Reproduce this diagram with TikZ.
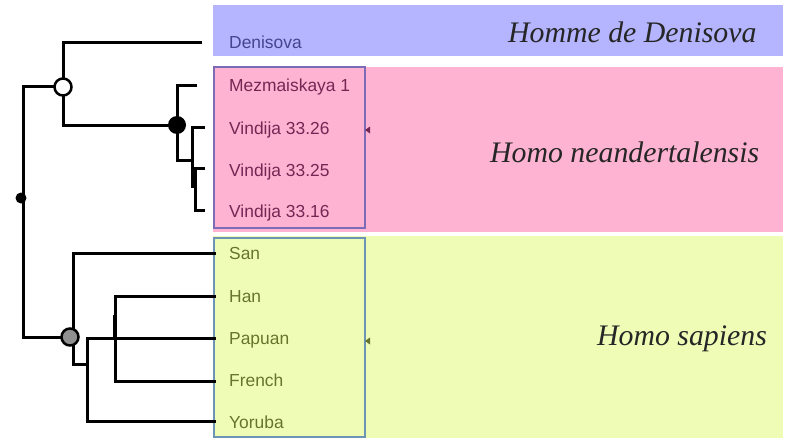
\documentclass[tikz,border=0pt]{standalone}
\usepackage{fontspec}
\setmainfont{Liberation Serif}
\newfontfamily\leaffont{Liberation Sans}
\definecolor{denband}{HTML}{B4B4FF}
\definecolor{neaband}{HTML}{FFB3D2}
\definecolor{sapband}{HTML}{EFFCB6}
\definecolor{dentext}{HTML}{45458E}
\definecolor{neatext}{HTML}{742754}
\definecolor{saptext}{HTML}{66752C}
\definecolor{neaframe}{HTML}{7C6CB8}
\definecolor{sapframe}{HTML}{6C94B4}
\definecolor{sapnode}{HTML}{909090}
\begin{document}
\begin{tikzpicture}[x=1pt,y=-1pt,
  branch/.style={line width=3pt,line cap=butt,line join=miter},
  leaf/.style={anchor=base west,inner sep=0pt,font=\leaffont\fontsize{17.4}{20}\selectfont},
  group/.style={anchor=base west,inner sep=0pt,font=\itshape\fontsize{29.8}{34}\selectfont,text=black!85},
  frame/.style={line width=1.6pt}
]
\useasboundingbox (0,0) rectangle (791,441);

% coloured bands behind the taxa
\fill[denband] (213,5) rectangle (783,56);
\fill[neaband] (213,67) rectangle (783,232);
\fill[sapband] (213,236) rectangle (783,438);

% frames round the leaf labels
\draw[frame,neaframe] (214,67) rectangle (365,228);
\draw[frame,sapframe] (214,238) rectangle (365,437);
\fill[neatext] (370,126.5) -- (365,130) -- (370,133.5) -- cycle;
\fill[saptext] (370,337.5) -- (365,341) -- (370,344.5) -- cycle;

% group names
\node[group] (gDen) at (508,43) {Homme de Denisova};
\node[group] (gNea) at (490,162) {Homo neandertalensis};
\node[group] (gSap) at (597,345) {Homo sapiens};

% leaf labels
\node[leaf,text=dentext] (tDen) at (229,49) {Denisova};
\node[leaf,text=neatext] (tMez) at (229,92) {Mezmaiskaya 1};
\node[leaf,text=neatext] (t26) at (229,134) {Vindija 33.26};
\node[leaf,text=neatext] (t25) at (229,176) {Vindija 33.25};
\node[leaf,text=neatext] (t16) at (229,217) {Vindija 33.16};
\node[leaf,text=saptext] (tSan) at (229,259) {San};
\node[leaf,text=saptext] (tHan) at (229,302) {Han};
\node[leaf,text=saptext] (tPap) at (229,344) {Papuan};
\node[leaf,text=saptext] (tFre) at (229,386) {French};
\node[leaf,text=saptext] (tYor) at (229,428) {Yoruba};

% tips of the branches
\coordinate (den) at (202,43);
\coordinate (mez) at (197,86);
\coordinate (v26) at (205,127);
\coordinate (v25) at (205,168);
\coordinate (v16) at (205,210);
\coordinate (san) at (216,253);
\coordinate (han) at (216,296);
\coordinate (pap) at (216,338);
\coordinate (fre) at (216,381);
\coordinate (yor) at (216,421);

% inner nodes
\coordinate (root) at (23,198);
\coordinate (arch) at (63,87);
\coordinate (nea) at (177,125);
\coordinate (n1) at (192,160);
\coordinate (n2) at (192,188);
\coordinate (n3) at (195,190);
\coordinate (sap) at (70,337);
\coordinate (s1) at (73,364);
\coordinate (s2) at (87,380);
\coordinate (hf) at (115,338);

% archaic humans
\draw[branch] (den) -| (arch) |- (nea);
\draw[branch] (arch) -| (root) |- (sap);
\draw[branch] (mez) -| (nea) |- (n1);
\draw[branch] (v26) -| (n2);
\draw[branch] (v25) -| (n3) |- (v16);

% modern humans
\draw[branch] (san) -| (s1) -- (s1 -| s2);
\draw[branch] (pap) -| (s2) |- (yor);
\draw[branch] (han) -| (hf) |- (fre);
\draw[line width=2pt] (113.5,315) -- (113.5,338);

% node markers
\draw[line width=2.5pt,fill=white] (arch) circle (8.5pt);
\fill (nea) circle (9pt);
\draw[line width=2.5pt,fill=sapnode] (sap) circle (8.5pt);
\fill (21,198) circle (5.5pt);
\end{tikzpicture}
\end{document}
